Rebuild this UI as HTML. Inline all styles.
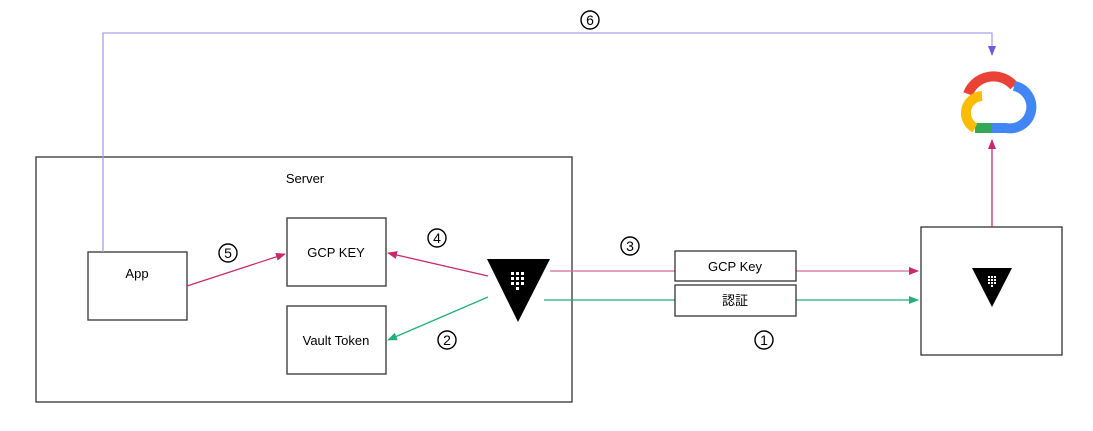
<!DOCTYPE html>
<html><head><meta charset="utf-8"><style>
html,body{margin:0;padding:0;background:#fff;}
text{font-family:"Liberation Sans","Noto Sans CJK JP",sans-serif;fill:#000;}
</style></head><body>
<svg width="1093" height="426" viewBox="0 0 1093 426" xmlns="http://www.w3.org/2000/svg">
<defs>
<marker id="ap" markerWidth="10" markerHeight="8" refX="9" refY="4" orient="auto" markerUnits="userSpaceOnUse"><path d="M0,0 L10,4 L0,8z" fill="#c7296c"/></marker>
<marker id="ag" markerWidth="10" markerHeight="8" refX="9" refY="4" orient="auto" markerUnits="userSpaceOnUse"><path d="M0,0 L10,4 L0,8z" fill="#22b07a"/></marker>
<marker id="au" markerWidth="10" markerHeight="8" refX="9" refY="4" orient="auto" markerUnits="userSpaceOnUse"><path d="M0,0 L10,4 L0,8z" fill="#6a5ce0"/></marker>
</defs>
<g fill="none" stroke="#333" stroke-width="1.3">
<rect x="36" y="157" width="536" height="245"/>
<rect x="88" y="252" width="99" height="68"/>
<rect x="287" y="218" width="99" height="68"/>
<rect x="287" y="306" width="99" height="68"/>
<rect x="921" y="227" width="141" height="128"/>
</g>
<text x="305" y="183" font-size="13" text-anchor="middle">Server</text>
<text x="137" y="278" font-size="13" text-anchor="middle">App</text>
<text x="336" y="257" font-size="13" text-anchor="middle">GCP KEY</text>
<text x="336" y="345" font-size="13" text-anchor="middle">Vault Token</text>
<path d="M103,252 V33 H992 V55" fill="none" stroke="#a8a0f0" stroke-width="1.3" marker-end="url(#au)"/>
<line x1="550" y1="271" x2="918" y2="271" stroke="#d46a96" stroke-width="1.3" marker-end="url(#ap)"/>
<line x1="544" y1="300" x2="918" y2="300" stroke="#22b07a" stroke-width="1.3" marker-end="url(#ag)"/>
<line x1="488" y1="276" x2="388" y2="253" stroke="#c7296c" stroke-width="1.3" marker-end="url(#ap)"/>
<line x1="488" y1="297" x2="388" y2="340" stroke="#22b07a" stroke-width="1.3" marker-end="url(#ag)"/>
<line x1="187" y1="286" x2="285" y2="254" stroke="#c7296c" stroke-width="1.3" marker-end="url(#ap)"/>
<line x1="992" y1="227" x2="992" y2="140" stroke="#c7296c" stroke-width="1.3" marker-end="url(#ap)"/>
<rect x="675" y="251" width="121" height="30" fill="#fff" stroke="#333" stroke-width="1.3"/>
<rect x="675" y="285" width="121" height="31" fill="#fff" stroke="#333" stroke-width="1.3"/>
<text x="735" y="271" font-size="13" text-anchor="middle">GCP Key</text>
<text x="735" y="305" font-size="13" text-anchor="middle">認証</text>
<path d="M487,259 L550,259 L518,322z" fill="#000"/>
<g fill="#fff">
<rect x="511" y="272" width="3" height="3"/><rect x="516" y="272" width="3" height="3"/><rect x="521" y="272" width="3" height="3"/>
<rect x="511" y="277" width="3" height="3"/><rect x="516" y="277" width="3" height="3"/><rect x="521" y="277" width="3" height="3"/>
<rect x="511" y="282" width="3" height="3"/><rect x="516" y="282" width="3" height="3"/><rect x="521" y="282" width="3" height="3"/>
<rect x="516" y="287" width="3" height="3"/>
</g>
<path d="M972,268 L1012,268 L992,307z" fill="#000"/>
<g fill="#fff">
<rect x="988" y="276" width="2" height="2"/><rect x="991" y="276" width="2" height="2"/><rect x="994" y="276" width="2" height="2"/>
<rect x="988" y="279" width="2" height="2"/><rect x="991" y="279" width="2" height="2"/><rect x="994" y="279" width="2" height="2"/>
<rect x="988" y="282" width="2" height="2"/><rect x="991" y="282" width="2" height="2"/><rect x="994" y="282" width="2" height="2"/>
<rect x="991" y="285" width="2" height="2"/>
</g>
<g fill="none" stroke-width="10" stroke-linecap="butt">
<path d="M968,94 A27,27 0 0 1 1014,86" stroke="#ea4335"/>
<path d="M1014,86 A20,20 0 0 1 1006,128 L991,128" stroke="#4285f4"/>
<path d="M991,128 L975,128" stroke="#34a853"/>
<path d="M975,128 A17,17 0 0 1 982,96" stroke="#fbbc05"/>
</g>
<g fill="none" stroke="#000" stroke-width="1.4">
<circle cx="590" cy="20" r="9"/>
<circle cx="228" cy="253" r="9"/>
<circle cx="437" cy="238" r="9"/>
<circle cx="630" cy="246" r="9"/>
<circle cx="447" cy="340" r="9"/>
<circle cx="764" cy="340" r="9"/>
</g>
<g font-size="14" text-anchor="middle">
<text x="590" y="25">6</text>
<text x="228" y="258">5</text>
<text x="437" y="243">4</text>
<text x="630" y="251">3</text>
<text x="447" y="345">2</text>
<text x="764" y="345">1</text>
</g>
</svg>
</body></html>
